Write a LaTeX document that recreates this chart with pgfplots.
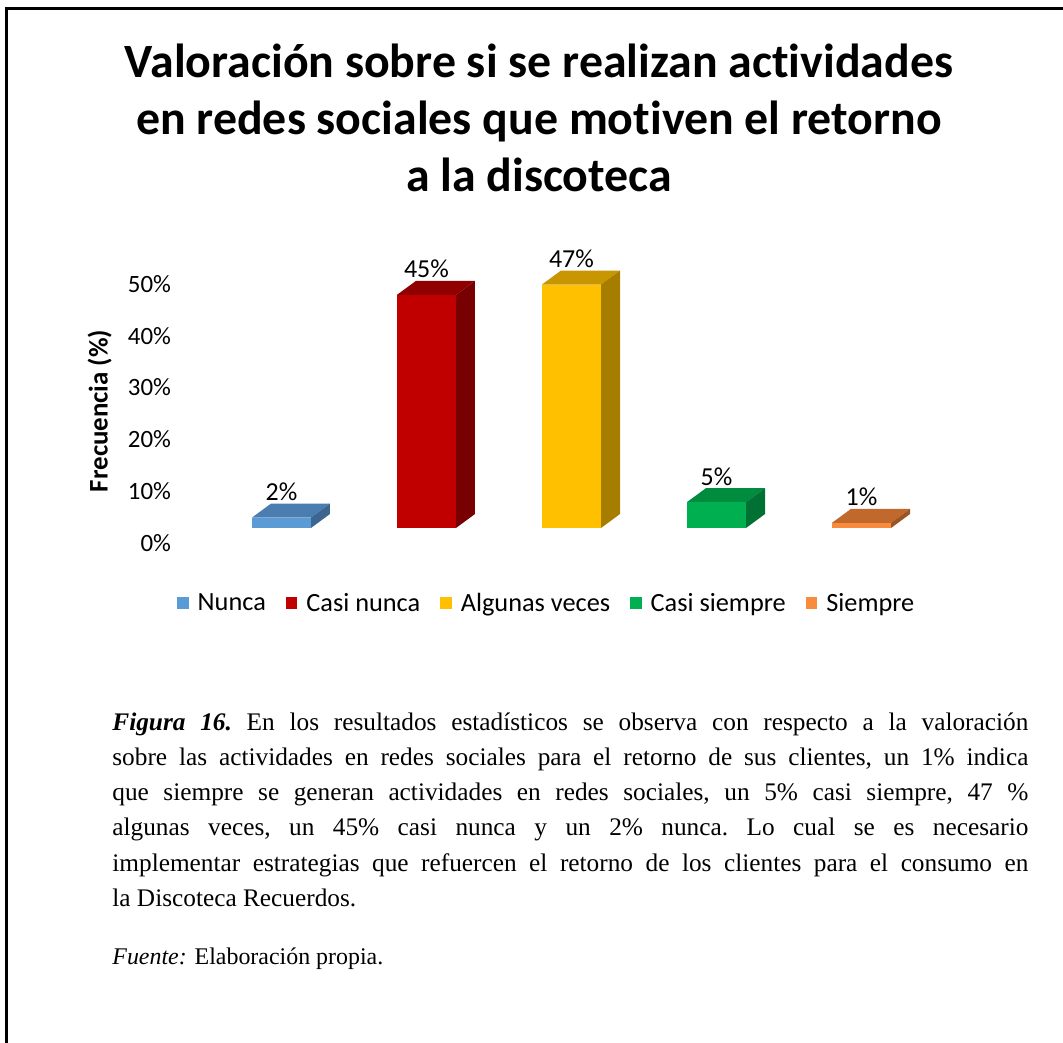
\documentclass[border=0pt]{standalone}
\usepackage{fontspec}
\setmainfont{Carlito}[Ligatures=NoCommon]
\newfontfamily\timesf{Liberation Serif}
\usepackage{pgfplots}
\pgfplotsset{compat=1.18}

\definecolor{nuncaF}{HTML}{5B9BD5}\definecolor{nuncaT}{HTML}{4A7DB0}\definecolor{nuncaS}{HTML}{3C6690}
\definecolor{cnuncaF}{HTML}{C00000}\definecolor{cnuncaT}{HTML}{900000}\definecolor{cnuncaS}{HTML}{780000}
\definecolor{algF}{HTML}{FFC000}\definecolor{algT}{HTML}{C89600}\definecolor{algS}{HTML}{A77D00}
\definecolor{csiemF}{HTML}{00B050}\definecolor{csiemT}{HTML}{008C3F}\definecolor{csiemS}{HTML}{007033}
\definecolor{siemF}{HTML}{F98C3C}\definecolor{siemT}{HTML}{C1692D}\definecolor{siemS}{HTML}{9D5425}

% top and side faces of a 3D-looking bar: #1 position, #2 value, #3 top colour, #4 side colour
\newcommand\depth[4]{%
  \pgfmathsetmacro\xl{#1-0.2035}\pgfmathsetmacro\xr{#1+0.2035}%
  \pgfmathsetmacro\xlb{#1-0.0725}\pgfmathsetmacro\xrb{#1+0.3345}%
  \pgfmathsetmacro\vb{#2+2.7}%
  \addplot[forget plot,fill=#3,draw=none] coordinates {(\xl,#2) (\xlb,\vb) (\xrb,\vb) (\xr,#2) (\xl,#2)};
  \addplot[forget plot,fill=#4,draw=none] coordinates {(\xr,0) (\xr,#2) (\xrb,\vb) (\xrb,2.7) (\xr,0)};
}
\pgfplotsset{front/.style={ybar, bar width=0.407, bar shift=0pt, fill=#1, draw=none,
  nodes near coords={\pgfmathprintnumber{\pgfplotspointmeta}\%},
  every node near coord/.append style={anchor=base, yshift=8.5bp, font=\fontsize{13}{15}\selectfont}}}

\begin{document}
\begin{tikzpicture}
\path[use as bounding box] (0,0) rectangle (531.5bp,-521.5bp);
\draw[line width=1.5bp] (3.2bp,-521.5bp) -- (3.2bp,-4bp) -- (531.5bp,-4bp);

\begin{scope}[font=\bfseries\fontsize{24}{28}\selectfont]
\node[anchor=base] at (269.5bp,-38.7bp) {Valoración sobre si se realizan actividades};
\node[anchor=base] at (269.5bp,-67.3bp) {en redes sociales que motiven el retorno};
\node[anchor=base] at (269.5bp,-95.8bp) {a la discoteca};
\end{scope}

\begin{axis}[
  at={(87.5bp,-274.35bp)}, anchor=south west,
  scale only axis, width=396.5bp, height=145.05bp,
  xmin=-0.734, xmax=4.734, ymin=-4, ymax=52,
  clip=false,
  axis line style={draw=none}, major tick style={draw=none},
  xtick=\empty,
  ytick={0,10,...,50},
  yticklabel={\pgfmathprintnumber{\tick}\%},
  yticklabel style={yshift=-7.5bp, xshift=1.5bp, font=\fontsize{12.5}{14}\selectfont},
  /pgf/number format/assume math mode=true,
  ylabel={\textbf{Frecuencia (\%)}},
  ylabel style={at={(axis description cs:-0.095,0.475)}, anchor=center, font=\fontsize{13.5}{15}\selectfont},
  legend style={at={(axis description cs:0.47,-0.19)}, anchor=center, draw=none,
    legend columns=-1, font=\fontsize{13.2}{15}\selectfont,
    /tikz/every even column/.append style={column sep=8bp}},
  legend image code/.code={\fill[#1,draw=none] (0bp,-2.6bp) rectangle (5.8bp,3.2bp);
    \path (8.3bp,0bp);},
]
\depth{0}{2}{nuncaT}{nuncaS}
\addplot[front=nuncaF] coordinates {(0,2)};
\addlegendentry{Nunca}
\depth{1}{45}{cnuncaT}{cnuncaS}
\addplot[front=cnuncaF] coordinates {(1,45)};
\addlegendentry{Casi nunca}
\depth{2}{47}{algT}{algS}
\addplot[front=algF] coordinates {(2,47)};
\addlegendentry{Algunas veces}
\depth{3}{5}{csiemT}{csiemS}
\addplot[front=csiemF] coordinates {(3,5)};
\addlegendentry{Casi siempre}
\depth{4}{1}{siemT}{siemS}
\addplot[front=siemF] coordinates {(4,1)};
\addlegendentry{Siempre}
\end{axis}

\node[anchor=base west, text width=458bp, align=justify, inner sep=0pt,
  font=\timesf\fontsize{12.7}{17.7}\selectfont\frenchspacing] at (56bp,-365bp) {%
\textbf{\textit{Figura 16.}} En los resultados estadísticos se observa con respecto a la valoración\linebreak
sobre las actividades en redes sociales para el retorno de sus clientes, un 1\% indica\linebreak
que siempre se generan actividades en redes sociales, un 5\% casi siempre, 47 \%\linebreak
algunas veces, un 45\% casi nunca y un 2\% nunca. Lo cual se es necesario\linebreak
implementar estrategias que refuercen el retorno de los clientes para el consumo en\linebreak
la Discoteca Recuerdos.};
\node[anchor=base west, inner sep=0pt, font=\timesf\fontsize{12}{14}\selectfont]
  at (56bp,-482bp) {\textit{Fuente:} Elaboración propia.};
\end{tikzpicture}
\end{document}
